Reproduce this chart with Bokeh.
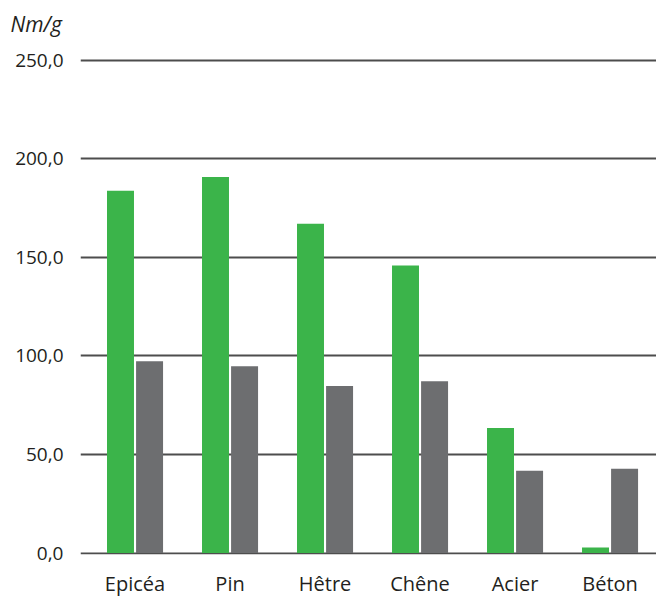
from bokeh.plotting import figure
from bokeh.embed import file_html
from bokeh.resources import INLINE
from bokeh.models import FixedTicker, Range1d

categories = ["Epicéa", "Pin", "Hêtre", "Chêne", "Acier", "Béton"]
green_values = [183.8, 190.8, 167.1, 145.9, 63.4, 2.8]
gray_values = [97.3, 94.8, 84.7, 87.2, 41.7, 42.7]
y_ticks = [0, 50, 100, 150, 200, 250]
y_tick_labels = ["0,0", "50,0", "100,0", "150,0", "200,0", "250,0"]
unit_label = "Nm/g"

FONT = "Open Sans"
TXT = "#231f20"

p = figure(width=656, height=599, output_backend="svg", toolbar_location=None,
           x_range=Range1d(-0.574, 5.489), y_range=Range1d(-0.76, 260.1),
           min_border_left=80, min_border_right=0, min_border_top=40, min_border_bottom=43)

xs = list(range(len(categories)))
off = 0.153
w = 0.284
p.vbar(x=[x - off for x in xs], top=green_values, bottom=0, width=w,
       fill_color="#3bb44a", line_color=None)
p.vbar(x=[x + off for x in xs], top=gray_values, bottom=0, width=w,
       fill_color="#6d6e70", line_color=None)

p.xgrid.grid_line_color = None
p.ygrid.ticker = FixedTicker(ticks=y_ticks)
p.ygrid.grid_line_color = "#4d4d4d"
p.ygrid.grid_line_width = 2

p.outline_line_color = None

p.yaxis.ticker = FixedTicker(ticks=y_ticks)
p.yaxis.major_label_overrides = {t: l for t, l in zip(y_ticks, y_tick_labels)}
p.yaxis.axis_line_color = None
p.yaxis.major_tick_line_color = None
p.yaxis.minor_tick_line_color = None
p.yaxis.major_tick_out = 0
p.yaxis.major_label_standoff = 17
p.yaxis.major_label_text_font = FONT
p.yaxis.major_label_text_font_size = "19px"
p.yaxis.major_label_text_color = TXT

p.xaxis.ticker = FixedTicker(ticks=xs)
p.xaxis.major_label_overrides = {i: c for i, c in enumerate(categories)}
p.xaxis.axis_line_color = None
p.xaxis.major_tick_line_color = None
p.xaxis.minor_tick_line_color = None
p.xaxis.major_tick_out = 0
p.xaxis.major_label_standoff = 15
p.xaxis.major_label_text_font = FONT
p.xaxis.major_label_text_font_size = "20px"
p.xaxis.major_label_text_color = TXT

p.title.text = unit_label
p.title.align = "left"
p.title.offset = -70
p.title.text_font = FONT
p.title.text_font_style = "italic"
p.title.text_font_size = "21px"
p.title.text_color = TXT
p.title.standoff = 6

open("out.html", "w").write(file_html(p, INLINE))
